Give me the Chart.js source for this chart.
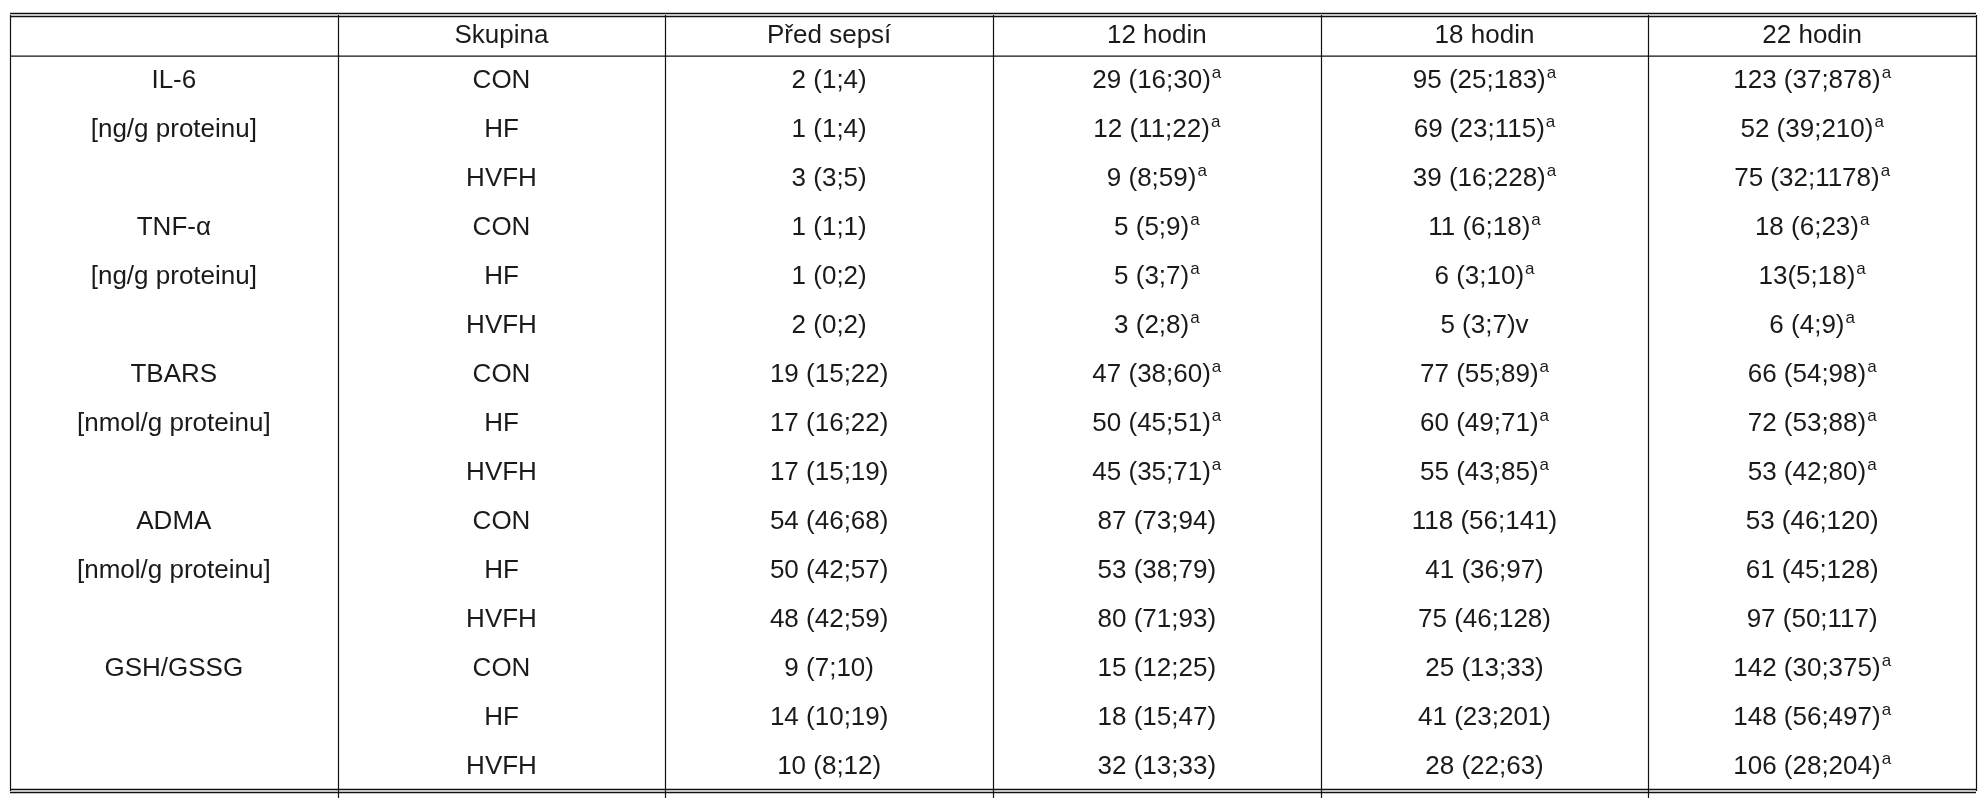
<!DOCTYPE html>
<html><head><meta charset="utf-8">
<script src="https://cdn.jsdelivr.net/npm/chart.js@4"></script>
<style>html,body{margin:0;background:#fff}</style>
</head><body>
<canvas id="c" width="1984" height="800"></canvas>
<script>
const headers = ["", "Skupina", "Před sepsí", "12 hodin", "18 hodin", "22 hodin"];
const markers = ["IL-6", "[ng/g proteinu]", "", "TNF-α", "[ng/g proteinu]", "", "TBARS", "[nmol/g proteinu]", "", "ADMA", "[nmol/g proteinu]", "", "GSH/GSSG", "", ""];
const groups = ["CON","HF","HVFH","CON","HF","HVFH","CON","HF","HVFH","CON","HF","HVFH","CON","HF","HVFH"];
const predSepsi = ["2 (1;4)","1 (1;4)","3 (3;5)","1 (1;1)","1 (0;2)","2 (0;2)","19 (15;22)","17 (16;22)","17 (15;19)","54 (46;68)","50 (42;57)","48 (42;59)","9 (7;10)","14 (10;19)","10 (8;12)"];
const h12 = ["29 (16;30)^a","12 (11;22)^a","9 (8;59)^a","5 (5;9)^a","5 (3;7)^a","3 (2;8)^a","47 (38;60)^a","50 (45;51)^a","45 (35;71)^a","87 (73;94)","53 (38;79)","80 (71;93)","15 (12;25)","18 (15;47)","32 (13;33)"];
const h18 = ["95 (25;183)^a","69 (23;115)^a","39 (16;228)^a","11 (6;18)^a","6 (3;10)^a","5 (3;7)v","77 (55;89)^a","60 (49;71)^a","55 (43;85)^a","118 (56;141)","41 (36;97)","75 (46;128)","25 (13;33)","41 (23;201)","28 (22;63)"];
const h22 = ["123 (37;878)^a","52 (39;210)^a","75 (32;1178)^a","18 (6;23)^a","13(5;18)^a","6 (4;9)^a","66 (54;98)^a","72 (53;88)^a","53 (42;80)^a","53 (46;120)","61 (45;128)","97 (50;117)","142 (30;375)^a","148 (56;497)^a","106 (28;204)^a"];
const columns = [markers, groups, predSepsi, h12, h18, h22];

const FONT = '26px "Liberation Sans", Arial, sans-serif';
const SUP = '17px "Liberation Sans", Arial, sans-serif';
const HEADER_TOP = -0.84;

const tablePlugin = {
  id: 'table',
  afterDraw(chart) {
    const ctx = chart.ctx, xs = chart.scales.x, ys = chart.scales.y;
    const nCols = headers.length, nRows = groups.length;
    const X = v => xs.getPixelForValue(v), Y = v => ys.getPixelForValue(v);
    ctx.save();
    ctx.strokeStyle = '#111';
    const hline = (y, w) => { ctx.lineWidth = w; ctx.beginPath(); ctx.moveTo(X(0), y); ctx.lineTo(X(nCols), y); ctx.stroke(); };
    hline(Y(HEADER_TOP) - 1.5, 1.6); hline(Y(HEADER_TOP) + 1.5, 1.6);
    hline(Y(0), 1.3);
    hline(Y(nRows) - 1.5, 1.6); hline(Y(nRows) + 1.5, 1.6);
    ctx.lineWidth = 1.2;
    for (let c = 0; c <= nCols; c++) {
      const x = Math.round(X(c)) + 0.5;
      ctx.beginPath(); ctx.moveTo(x, Y(HEADER_TOP)); ctx.lineTo(x, Y(nRows) + (c > 0 && c < nCols ? 7 : 0)); ctx.stroke();
    }
    ctx.fillStyle = '#1a1a1a'; ctx.textBaseline = 'middle';
    const drawCell = (s, cx, cy) => {
      const sup = s.endsWith('^a');
      const main = sup ? s.slice(0, -2) : s;
      ctx.font = FONT; const w1 = ctx.measureText(main).width;
      ctx.font = SUP; const w2 = sup ? ctx.measureText('a').width + 1 : 0;
      const x0 = cx - (w1 + w2) / 2;
      ctx.textAlign = 'left';
      ctx.font = FONT; ctx.fillText(main, x0, cy);
      if (sup) { ctx.font = SUP; ctx.fillText('a', x0 + w1 + 1, cy - 7); }
    };
    headers.forEach((h, c) => drawCell(h, X(c + 0.5), Y(HEADER_TOP / 2)));
    columns.forEach((col, c) => col.forEach((s, r) => { if (s) drawCell(s, X(c + 0.5), Y(r + 0.5)); }));
    ctx.restore();
  }
};

new Chart(document.getElementById('c'), {
  type: 'scatter',
  data: { datasets: [{ data: [], pointRadius: 0 }] },
  options: {
    responsive: false, animation: false,
    layout: { padding: { left: 10, right: 8, top: 15, bottom: 9 } },
    plugins: { legend: { display: false }, tooltip: { enabled: false } },
    scales: {
      x: { type: 'linear', min: 0, max: headers.length, display: false },
      y: { type: 'linear', min: HEADER_TOP, max: groups.length, reverse: true, display: false }
    }
  },
  plugins: [tablePlugin]
});
</script>
</body></html>
